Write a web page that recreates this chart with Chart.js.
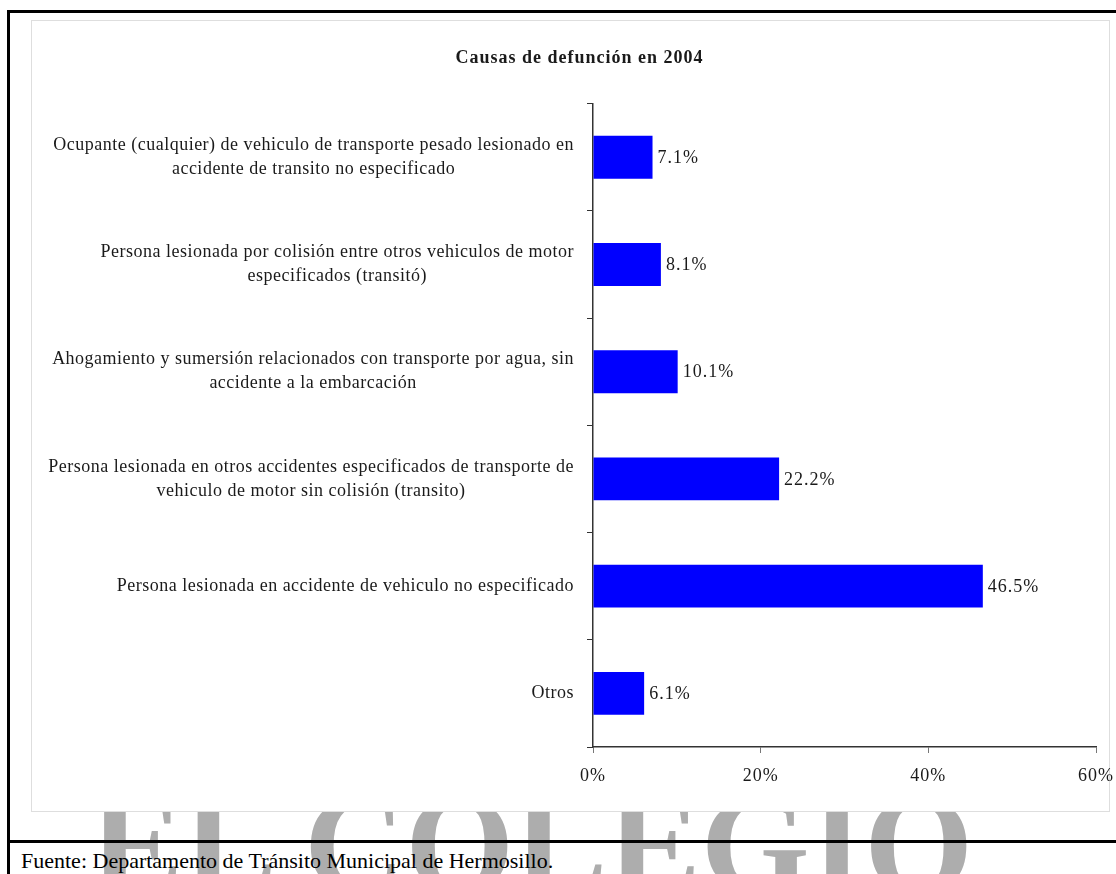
<!DOCTYPE html>
<html lang="es">
<head>
<meta charset="utf-8">
<title>Causas de defunción en 2004</title>
<script src="https://cdn.jsdelivr.net/npm/chart.js@4.4.1/dist/chart.umd.min.js"></script>
<style>
    body {
        margin: 0;
        width: 1116px;
        height: 874px;
        overflow: hidden;
        background: #fff;
        position: relative;
        font-family: "Liberation Serif", "Times New Roman", serif;
    }
    #marca {
        position: absolute;
        left: 90px;
        top: 775px;
        font-size: 140px;
        line-height: 1;
        font-weight: bold;
        color: #adadad;
        white-space: nowrap;
    }
    #caja {
        position: absolute;
        left: 31px;
        top: 20px;
        width: 1079px;
        height: 792px;
        box-sizing: border-box;
        border: 1px solid #dedede;
        background: #fff;
    }
    #grafica {
        position: absolute;
        left: 31px;
        top: 20px;
    }
    .linea {
        position: absolute;
        background: #000;
    }
    #fuente {
        position: absolute;
        left: 21px;
        top: 850px;
        font-size: 22px;
        line-height: 1;
        color: #000;
        white-space: nowrap;
    }
</style>
</head>
<body>
<div id="marca">EL COLEGIO</div>
<div id="caja"></div>
<canvas id="grafica" width="1085" height="792"></canvas>
<div class="linea" style="left:7px; top:10px; width:3px; height:864px;"></div>
<div class="linea" style="left:7px; top:10px; width:1109px; height:3px;"></div>
<div class="linea" style="left:7px; top:840px; width:1109px; height:3px;"></div>
<div id="fuente">Fuente: Departamento de Tránsito Municipal de Hermosillo.</div>

<script>
// Causas (cada una partida en las líneas con que se rotula)
const causas = [
    ['Ocupante (cualquier) de vehiculo de transporte pesado lesionado en', 'accidente de transito no especificado'],
    ['Persona lesionada por colisión entre otros vehiculos de motor', 'especificados (transitó)'],
    ['Ahogamiento y sumersión relacionados con transporte por agua, sin', 'accidente a la embarcación'],
    ['Persona lesionada en otros accidentes especificados de transporte de', 'vehiculo de motor sin colisión (transito)'],
    ['Persona lesionada en accidente de vehiculo no especificado'],
    ['Otros']
];
const porcentajes = [7.1, 8.1, 10.1, 22.2, 46.5, 6.1];
const ticksX = [0, 20, 40, 60];

const fuenteTexto = '"Liberation Serif", "Times New Roman", serif';

// Espaciado entre letras para todo lo que dibuja la librería
const espaciado = {
    id: 'espaciado',
    beforeDraw(chart) {
        chart.ctx.letterSpacing = '1px';
    }
};

// Rótulos del eje de categorías: cada bloque alineado a la derecha, líneas centradas
const rotulosY = {
    id: 'rotulosY',
    afterDraw(chart) {
        const ctx = chart.ctx;
        const escala = chart.scales.y;
        const derecha = escala.right - 6 - 13;
        ctx.save();
        ctx.font = '18px ' + fuenteTexto;
        ctx.letterSpacing = '0.5px';
        ctx.fillStyle = '#1a1a1a';
        ctx.textAlign = 'center';
        ctx.textBaseline = 'middle';
        causas.forEach((lineas, i) => {
            const centro = escala.getPixelForValue(i);
            const ancho = Math.max(...lineas.map(l => ctx.measureText(l).width));
            const xc = derecha - ancho / 2;
            lineas.forEach((linea, j) => {
                ctx.fillText(linea, xc, centro + (j - (lineas.length - 1) / 2) * 24);
            });
        });
        ctx.restore();
    }
};

// Valor al final de cada barra
const valores = {
    id: 'valores',
    afterDatasetsDraw(chart) {
        const ctx = chart.ctx;
        const meta = chart.getDatasetMeta(0);
        ctx.save();
        ctx.font = '18px ' + fuenteTexto;
        ctx.letterSpacing = '1px';
        ctx.fillStyle = '#1a1a1a';
        ctx.textAlign = 'left';
        ctx.textBaseline = 'middle';
        meta.data.forEach((barra, i) => {
            ctx.fillText(porcentajes[i].toFixed(1) + '%', barra.x + 5, barra.y + 1);
        });
        ctx.restore();
    }
};

new Chart(document.getElementById('grafica'), {
    type: 'bar',
    data: {
        labels: causas,
        datasets: [{
            data: porcentajes,
            backgroundColor: '#0000ff',
            borderWidth: 0,
            barPercentage: 0.4,
            categoryPercentage: 1
        }]
    },
    options: {
        indexAxis: 'y',
        responsive: false,
        devicePixelRatio: 1,
        animation: false,
        layout: {
            padding: { left: 32, right: 20, top: 0, bottom: 0 }
        },
        plugins: {
            legend: { display: false },
            tooltip: { enabled: false },
            title: {
                display: true,
                text: 'Causas de defunción en 2004',
                color: '#1a1a1a',
                font: { family: fuenteTexto, size: 18, weight: 'bold' },
                padding: { top: 28, bottom: 34 }
            }
        },
        scales: {
            x: {
                min: 0,
                max: 60,
                afterBuildTicks(scale) {
                    scale.ticks = ticksX.map(v => ({ value: v }));
                },
                afterFit(scale) {
                    scale.height = 65;
                    // el rótulo del 60% cabe en el margen derecho
                    scale.paddingLeft = 0;
                    scale.paddingRight = 0;
                },
                grid: {
                    drawOnChartArea: false,
                    tickLength: 6,
                    color: '#777'
                },
                border: { color: '#333', width: 1.5 },
                ticks: {
                    color: '#1a1a1a',
                    padding: 12,
                    font: { family: fuenteTexto, size: 18 },
                    callback: v => v + '%'
                }
            },
            y: {
                afterFit(scale) {
                    scale.width = 530;
                },
                grid: {
                    drawOnChartArea: false,
                    offset: true,
                    tickLength: 6,
                    color: '#333'
                },
                border: { color: '#333', width: 1.5 },
                ticks: { display: false }
            }
        }
    },
    plugins: [espaciado, rotulosY, valores]
});
</script>
</body>
</html>
